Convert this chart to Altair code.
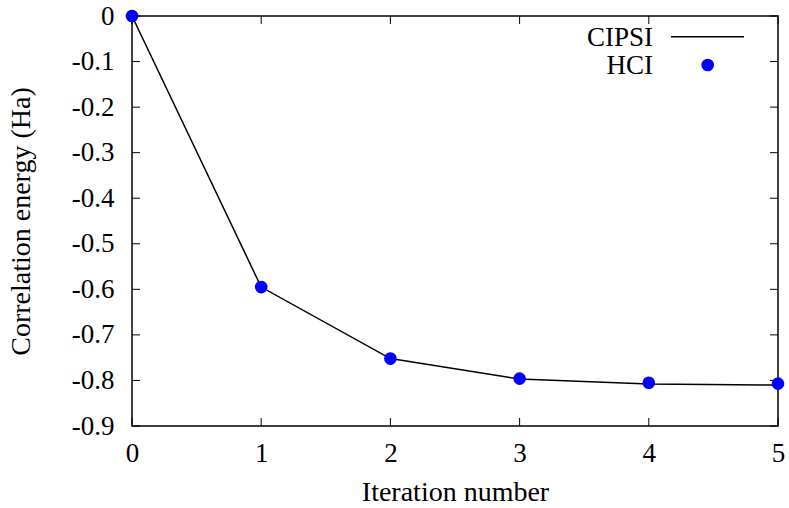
import altair as alt
import pandas as pd

iterations = [0, 1, 2, 3, 4, 5]
cipsi = [0.0, -0.595, -0.752, -0.797, -0.808, -0.810]
hci = [0.0, -0.595, -0.752, -0.796, -0.805, -0.807]
x_ticks = [0, 1, 2, 3, 4, 5]
y_ticks = [0.0, -0.1, -0.2, -0.3, -0.4, -0.5, -0.6, -0.7, -0.8, -0.9]

W, H = 646, 410
FONT = "'Liberation Serif', 'Times New Roman', Times, 'DejaVu Serif', serif"
FS = 27
TFS = 28

df_c = pd.DataFrame({"it": iterations, "e": cipsi})
df_h = pd.DataFrame({"it": iterations, "e": hci})
df_xt = pd.DataFrame({"it": x_ticks})
df_yt = pd.DataFrame({"e": y_ticks})

xs = alt.Scale(domain=[0, 5], nice=False, zero=False)
ys = alt.Scale(domain=[-0.9, 0], nice=False, zero=False)

xaxis = alt.Axis(values=x_ticks, ticks=False, domain=False, grid=False,
                 format="d", labelFlush=False,
                 labelFont=FONT, labelFontSize=FS, labelColor="black",
                 labelPadding=14, title="Iteration number", titleFont=FONT,
                 titleFontSize=TFS, titleFontWeight="normal", titleColor="black",
                 titlePadding=12)
yaxis = alt.Axis(values=y_ticks, ticks=False, domain=False, grid=False,
                 labelFlush=False,
                 labelFont=FONT, labelFontSize=FS, labelColor="black",
                 labelPadding=18,
                 labelExpr="datum.value == 0 ? '0' : toString(round(datum.value*10)/10)",
                 title="Correlation energy (Ha)", titleFont=FONT,
                 titleFontSize=TFS, titleFontWeight="normal", titleColor="black",
                 titlePadding=36)

line = alt.Chart(df_c).mark_line(color="black", strokeWidth=1.5).encode(
    x=alt.X("it:Q", scale=xs, axis=xaxis),
    y=alt.Y("e:Q", scale=ys, axis=yaxis),
)
pts = alt.Chart(df_h).mark_circle(color="#0000ff", opacity=1, size=160).encode(
    x=alt.X("it:Q", scale=xs),
    y=alt.Y("e:Q", scale=ys),
)

TL = 8
tb = alt.Chart(df_xt).mark_rule(color="black", strokeWidth=1).encode(
    x=alt.X("it:Q", scale=xs), y=alt.value(H), y2=alt.value(H - TL))
tt = alt.Chart(df_xt).mark_rule(color="black", strokeWidth=1).encode(
    x=alt.X("it:Q", scale=xs), y=alt.value(0), y2=alt.value(TL))
tl = alt.Chart(df_yt).mark_rule(color="black", strokeWidth=1).encode(
    y=alt.Y("e:Q", scale=ys), x=alt.value(0), x2=alt.value(TL))
tr = alt.Chart(df_yt).mark_rule(color="black", strokeWidth=1).encode(
    y=alt.Y("e:Q", scale=ys), x=alt.value(W), x2=alt.value(W - TL))

leg_text = alt.Chart(pd.DataFrame({"label": ["CIPSI"]})).mark_text(
    font=FONT, fontSize=FS, align="right", baseline="alphabetic", color="black"
).encode(text="label:N", x=alt.value(521), y=alt.value(30))
leg_text2 = alt.Chart(pd.DataFrame({"label": ["HCI"]})).mark_text(
    font=FONT, fontSize=FS, align="right", baseline="alphabetic", color="black"
).encode(text="label:N", x=alt.value(521), y=alt.value(58))
leg_line = alt.Chart(pd.DataFrame({"a": [0]})).mark_rule(color="black", strokeWidth=1.5).encode(
    x=alt.value(539), x2=alt.value(612), y=alt.value(20.7))
leg_pt = alt.Chart(pd.DataFrame({"a": [0]})).mark_circle(color="#0000ff", opacity=1, size=160).encode(
    x=alt.value(575.7), y=alt.value(49))

chart = alt.layer(line, tb, tt, tl, tr, pts, leg_text, leg_text2, leg_line, leg_pt).properties(
    width=W, height=H,
    autosize=alt.AutoSizeParams(type="none"),
    padding={"left": 132, "top": 16, "right": 11, "bottom": 82},
    background="white",
).configure_view(stroke="black", strokeWidth=1.5)

chart.save("out.html", embed_options={"renderer": "svg", "actions": False})
